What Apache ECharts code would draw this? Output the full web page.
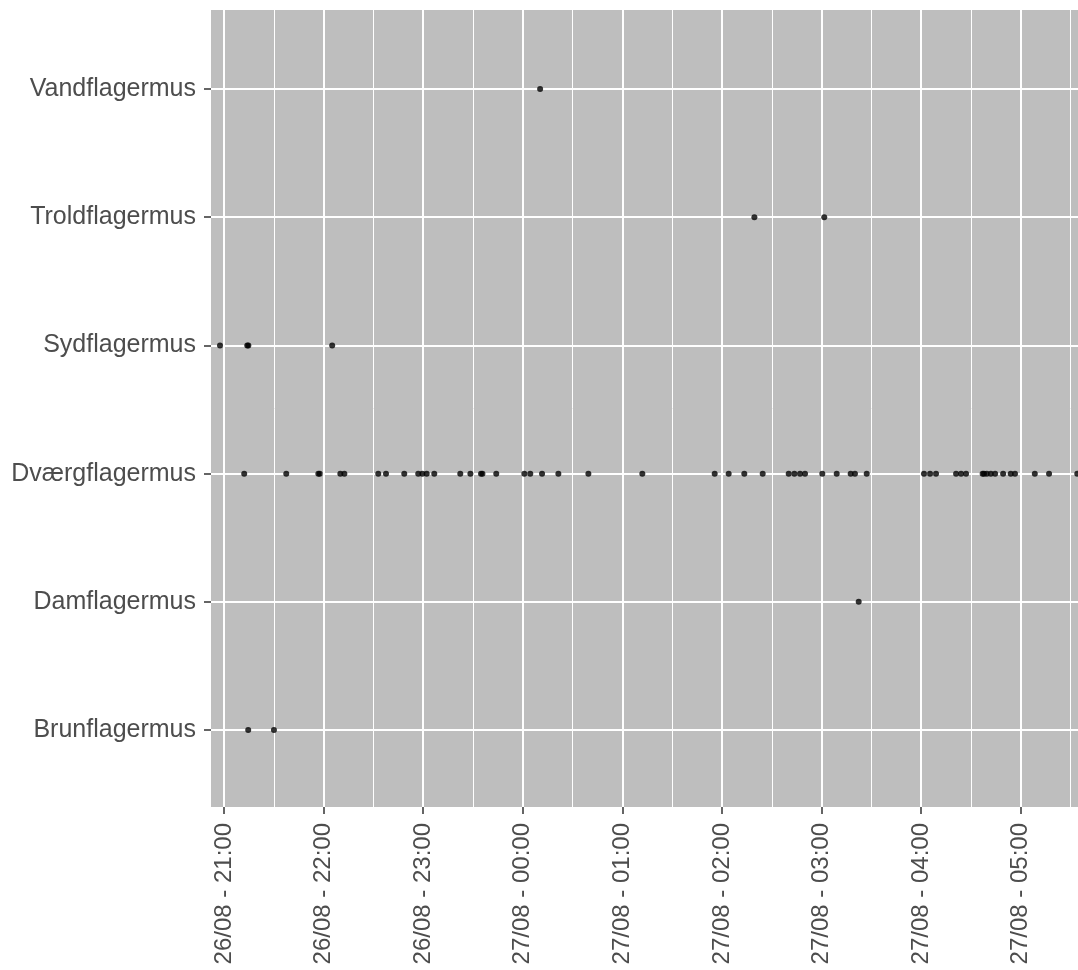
<!DOCTYPE html>
<html><head><meta charset="utf-8">
<script src="https://cdn.jsdelivr.net/npm/echarts@6/dist/echarts.min.js"></script>
<style>html,body{margin:0;padding:0;background:#fff}#c{width:1078px;height:970px}</style>
</head><body><div id="c"></div>
<script>
// Categories (bottom to top)
const species = ["Brunflagermus","Damflagermus","Dværgflagermus","Sydflagermus","Troldflagermus","Vandflagermus"];

// Detection times per species ("dd/mm HH:MM:SS")
const brunTimes = ["26/08 21:14:35","26/08 21:30:05"];
const damTimes = ["27/08 03:22:20"];
const dvaergTimes = [
  "26/08 21:12:10","26/08 21:37:30","26/08 21:56:50","26/08 21:57:40","26/08 22:10:05","26/08 22:12:30",
  "26/08 22:32:55","26/08 22:37:35","26/08 22:48:35","26/08 22:57:00","26/08 22:59:30","26/08 23:02:05",
  "26/08 23:06:40","26/08 23:22:20","26/08 23:28:25","26/08 23:34:50","26/08 23:35:40","26/08 23:44:00",
  "27/08 00:00:55","27/08 00:04:30","27/08 00:11:35","27/08 00:21:25","27/08 00:39:30","27/08 01:12:00",
  "27/08 01:55:35","27/08 02:04:00","27/08 02:13:25","27/08 02:24:30","27/08 02:40:10","27/08 02:43:35",
  "27/08 02:47:00","27/08 02:50:00","27/08 03:00:25","27/08 03:09:05","27/08 03:17:30","27/08 03:20:05",
  "27/08 03:27:10","27/08 04:01:40","27/08 04:05:20","27/08 04:08:55","27/08 04:21:00","27/08 04:24:00",
  "27/08 04:27:00","27/08 04:37:00","27/08 04:37:50","27/08 04:39:30","27/08 04:41:55","27/08 04:44:30",
  "27/08 04:49:20","27/08 04:53:55","27/08 04:56:30","27/08 05:08:25","27/08 05:17:00","27/08 05:34:00"
];
const sydTimes = ["26/08 20:57:35","26/08 21:14:00","26/08 21:14:40","26/08 22:05:10"];
const troldTimes = ["27/08 02:19:30","27/08 03:01:35"];
const vandTimes = ["27/08 00:10:25"];

// X tick positions (hours since 26/08 00:00) and their labels
const xTickHours = [21,22,23,24,25,26,27,28,29];
const xTickLabels = ["26/08 - 21:00","26/08 - 22:00","26/08 - 23:00","27/08 - 00:00","27/08 - 01:00",
                     "27/08 - 02:00","27/08 - 03:00","27/08 - 04:00","27/08 - 05:00"];
const xMinorHours = [21.5,22.5,23.5,24.5,25.5,26.5,27.5,28.5,29.5];

function toHours(s){
  const [d, t] = s.split(" ");
  const day = parseInt(d.split("/")[0], 10);
  const [hh, mm, ss] = t.split(":").map(Number);
  return (day - 26) * 24 + hh + mm / 60 + ss / 3600;
}
const groups = [brunTimes, damTimes, dvaergTimes, sydTimes, troldTimes, vandTimes];
const points = [];
groups.forEach((arr, i) => arr.forEach(s => points.push([toHours(s), i + 1])));

const X_MIN = 20.8695, X_MAX = 29.574;
const FONT = "Liberation Sans";
const chart = echarts.init(document.getElementById('c'), null, {renderer:'canvas'});
chart.setOption({
  animation:false,
  backgroundColor:'#ffffff',
  grid:{left:211, top:10, right:0, bottom:163, show:true, backgroundColor:'#BEBEBE', borderWidth:0, containLabel:false},
  xAxis:[{
    type:'value', min:X_MIN, max:X_MAX, position:'bottom',
    axisLine:{show:false},
    axisTick:{show:true, length:7, customValues:xTickHours, lineStyle:{color:'#333333', width:1.5}},
    axisLabel:{customValues:xTickHours, rotate:90, margin:16, color:'#4D4D4D', fontSize:24, fontFamily:FONT,
      formatter:v => { const i = xTickHours.indexOf(Math.round(v)); return i >= 0 ? xTickLabels[i] : ''; }},
    splitLine:{show:true, lineStyle:{color:'#ffffff', width:2}}
  },{
    type:'value', min:X_MIN, max:X_MAX, position:'top',
    axisLine:{show:false},
    axisTick:{show:false, customValues:xMinorHours},
    axisLabel:{show:false, customValues:xMinorHours},
    splitLine:{show:true, lineStyle:{color:'#ffffff', width:1}}
  }],
  yAxis:{
    type:'value', min:0.4, max:6.616,
    axisLine:{show:false},
    axisTick:{show:true, length:7, customValues:[1,2,3,4,5,6], lineStyle:{color:'#333333', width:1.5}},
    axisLabel:{customValues:[1,2,3,4,5,6], margin:15, color:'#4D4D4D', fontSize:25, fontFamily:FONT,
      formatter:v => species[Math.round(v) - 1]},
    splitLine:{show:true, lineStyle:{color:'#ffffff', width:2}}
  },
  series:[{
    type:'scatter', xAxisIndex:0, data:points, symbol:'circle', symbolSize:6,
    itemStyle:{color:'#000000'}, silent:true
  }]
});
</script></body></html>
